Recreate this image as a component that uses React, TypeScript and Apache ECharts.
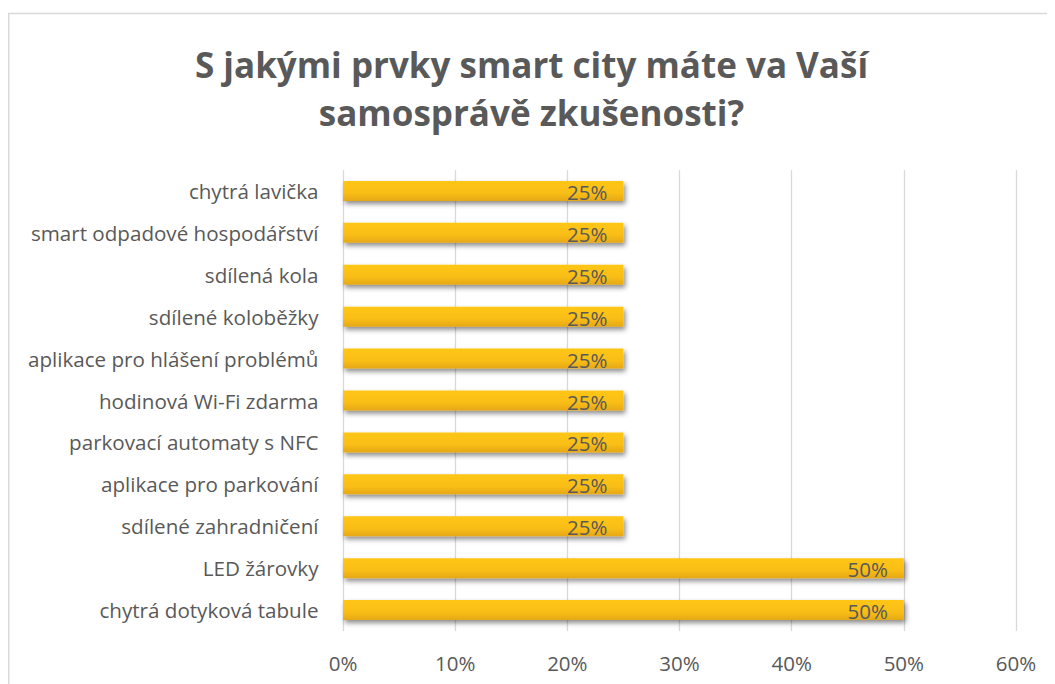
import React, { useEffect, useRef } from "react";
import * as echarts from "echarts";

const categories = [
  "chytrá dotyková tabule",
  "LED žárovky",
  "sdílené zahradničení",
  "aplikace pro parkování",
  "parkovací automaty s NFC",
  "hodinová Wi-Fi zdarma",
  "aplikace pro hlášení problémů",
  "sdílené koloběžky",
  "sdílená kola",
  "smart odpadové hospodářství",
  "chytrá lavička",
];
const values = [50, 50, 25, 25, 25, 25, 25, 25, 25, 25, 25];
const titleText = "S jakými prvky smart city máte va Vaší\nsamosprávě zkušenosti?";

export default function App() {
  const ref = useRef<HTMLDivElement>(null);
  useEffect(() => {
    if (!ref.current) return;
    const chart = echarts.init(ref.current, null, { renderer: "svg" });
    const font = "'Open Sans', 'Liberation Sans', sans-serif";
    chart.setOption({
      animation: false,
      backgroundColor: "#ffffff",
      title: {
        text: titleText,
        left: "center",
        top: 27,
        textStyle: {
          fontFamily: font,
          fontSize: 35,
          fontWeight: "bold",
          color: "#595959",
          lineHeight: 48,
        },
      },
      graphic: [
        { type: "line", shape: { x1: 0, y1: 5.5, x2: 1047, y2: 5.5 }, style: { stroke: "#d9d9d9", lineWidth: 1.5 } },
        { type: "line", shape: { x1: 0.75, y1: 5, x2: 0.75, y2: 676 }, style: { stroke: "#d9d9d9", lineWidth: 1.5 } },
      ],
      grid: { left: 335, right: 39, top: 162, bottom: 53, containLabel: false },
      xAxis: {
        type: "value",
        min: 0,
        max: 60,
        interval: 10,
        axisLine: { show: false },
        axisTick: { show: false },
        axisLabel: {
          formatter: "{value}%",
          color: "#595959",
          fontSize: 20.5,
          fontFamily: font,
          margin: 21,
        },
        splitLine: { show: true, lineStyle: { color: "#d9d9d9", width: 1.3 } },
      },
      yAxis: {
        type: "category",
        data: categories,
        axisLine: { show: false },
        axisTick: { show: false },
        axisLabel: {
          color: "#595959",
          fontSize: 20.6,
          fontFamily: font,
          margin: 24.5,
        },
      },
      series: [
        {
          type: "bar",
          data: values,
          barWidth: 20,
          itemStyle: {
            color: new echarts.graphic.LinearGradient(0, 0, 0, 1, [
              { offset: 0, color: "#FFC614" },
              { offset: 0.6, color: "#F9BE14" },
              { offset: 1, color: "#E5A818" },
            ]),
            shadowColor: "rgba(0,0,0,0.45)",
            shadowBlur: 5,
            shadowOffsetX: 2,
            shadowOffsetY: 3,
          },
          label: {
            show: true,
            position: "insideRight",
            distance: 16,
            formatter: "{c}%",
            color: "#595959",
            fontSize: 20.5,
            fontFamily: font,
            offset: [0, 1],
          },
        },
      ],
    });
    return () => chart.dispose();
  }, []);
  return <div ref={ref} style={{ width: 1047, height: 676 }} />;
}
